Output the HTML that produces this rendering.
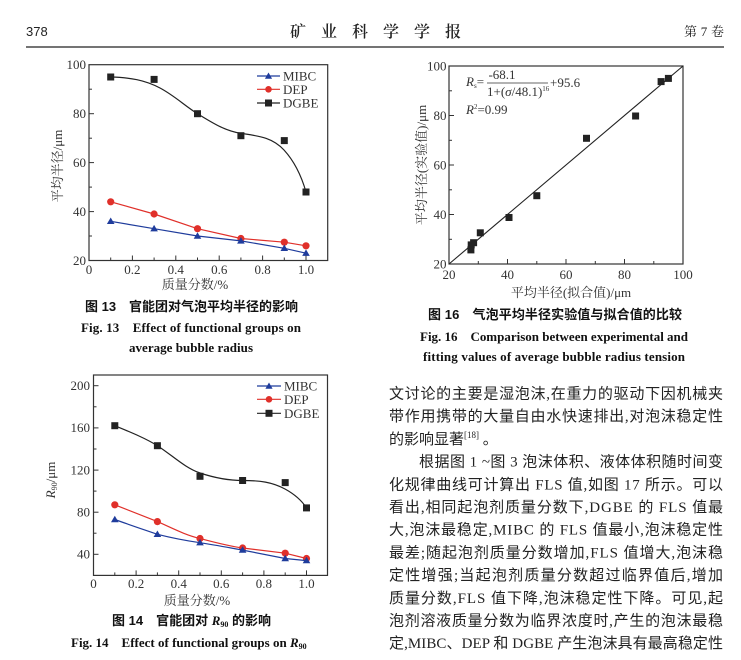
<!DOCTYPE html>
<html><head><meta charset="utf-8"><style>
html,body{margin:0;padding:0;background:#fff;}
svg{display:block;}
.tk{font-family:"Liberation Serif",serif;font-size:13px;fill:#333;}
.cj{font-family:"Liberation Serif","Noto Serif CJK SC",serif;font-size:13px;fill:#333;}
.cap{font-family:"Liberation Sans","Noto Sans CJK SC",sans-serif;font-size:13px;font-weight:bold;fill:#111;}
.capE{font-family:"Liberation Serif",serif;font-size:13px;font-weight:bold;fill:#111;}
.bd{font-family:"Liberation Serif","Noto Sans CJK SC",sans-serif;font-size:15px;fill:#222;}
.ax{fill:none;stroke:#333;stroke-width:1.2;}
.t{stroke:#333;stroke-width:1;}
</style></head><body>
<svg width="741" height="660" viewBox="0 0 741 660" xmlns="http://www.w3.org/2000/svg">
<rect width="741" height="660" fill="#fff"/>
<!-- header -->
<text x="26" y="36" style="font-family:'Liberation Sans Narrow','Liberation Sans',sans-serif;font-size:13px;fill:#222">378</text>
<text x="290" y="37" textLength="171" lengthAdjust="spacing" style="font-family:'Liberation Serif','Noto Serif CJK SC',serif;font-size:16px;font-weight:600;fill:#222">矿业科学学报</text>
<text x="684" y="36" textLength="40" lengthAdjust="spacing" style="font-family:'Liberation Serif','Noto Serif CJK SC',serif;font-size:13px;fill:#222">第7卷</text>
<line x1="26" y1="47" x2="724" y2="47" stroke="#222" stroke-width="1.2"/>

<!-- ===== Chart 13 ===== -->
<rect x="89" y="64.7" width="238.7" height="195.8" class="ax"/>
<g class="t">
<line x1="132.4" y1="260.5" x2="132.4" y2="255.5"/><line x1="175.8" y1="260.5" x2="175.8" y2="255.5"/><line x1="219.2" y1="260.5" x2="219.2" y2="255.5"/><line x1="262.6" y1="260.5" x2="262.6" y2="255.5"/><line x1="306" y1="260.5" x2="306" y2="255.5"/>
<line x1="110.7" y1="260.5" x2="110.7" y2="257.5"/><line x1="154.1" y1="260.5" x2="154.1" y2="257.5"/><line x1="197.5" y1="260.5" x2="197.5" y2="257.5"/><line x1="240.9" y1="260.5" x2="240.9" y2="257.5"/><line x1="284.3" y1="260.5" x2="284.3" y2="257.5"/>
<line x1="89" y1="113.7" x2="94" y2="113.7"/><line x1="89" y1="162.6" x2="94" y2="162.6"/><line x1="89" y1="211.6" x2="94" y2="211.6"/>
<line x1="89" y1="89.2" x2="92" y2="89.2"/><line x1="89" y1="138.2" x2="92" y2="138.2"/><line x1="89" y1="187.1" x2="92" y2="187.1"/><line x1="89" y1="236" x2="92" y2="236"/>
</g>
<g class="tk" text-anchor="end">
<text x="86" y="69">100</text><text x="86" y="118">80</text><text x="86" y="167">60</text><text x="86" y="216">40</text><text x="86" y="265">20</text>
</g>
<g class="tk" text-anchor="middle">
<text x="89" y="274">0</text><text x="132.4" y="274">0.2</text><text x="175.8" y="274">0.4</text><text x="219.2" y="274">0.6</text><text x="262.6" y="274">0.8</text><text x="306" y="274">1.0</text>
</g>
<text class="cj" x="195" y="289" text-anchor="middle">质量分数/%</text>
<text class="cj" x="0" y="0" text-anchor="middle" transform="translate(62,166) rotate(-90)">平均半径/μm</text>
<!-- series -->
<path d="M110.7,77 C130,77.5 145,80 160,88 C175,96 185,106 197.5,113.7 C212,122.5 225,131 240.9,133.3 C258,136 272,137 284,150 C295,162 302,178 306,192" fill="none" stroke="#222" stroke-width="1.2"/>
<g fill="#222">
<rect x="107.2" y="73.5" width="7" height="7"/><rect x="150.6" y="75.9" width="7" height="7"/><rect x="194" y="110.2" width="7" height="7"/><rect x="237.4" y="132.2" width="7" height="7"/><rect x="280.8" y="137.1" width="7" height="7"/><rect x="302.5" y="188.5" width="7" height="7"/>
</g>
<polyline points="110.7,201.8 154.1,214 197.5,228.7 240.9,238.5 284.3,242.2 306,245.8" fill="none" stroke="#e0302a" stroke-width="1.2"/>
<g fill="#e0302a">
<circle cx="110.7" cy="201.8" r="3.6"/><circle cx="154.1" cy="214" r="3.6"/><circle cx="197.5" cy="228.7" r="3.6"/><circle cx="240.9" cy="238.5" r="3.6"/><circle cx="284.3" cy="242.2" r="3.6"/><circle cx="306" cy="245.8" r="3.6"/>
</g>
<polyline points="110.7,221.3 154.1,228.7 197.5,236 240.9,240.9 284.3,248.3 306,253.2" fill="none" stroke="#1f3c9c" stroke-width="1.2"/>
<g fill="#1f3c9c">
<path d="M110.7,217.5 l3.8,6.5 h-7.6z"/><path d="M154.1,224.9 l3.8,6.5 h-7.6z"/><path d="M197.5,232.2 l3.8,6.5 h-7.6z"/><path d="M240.9,237.1 l3.8,6.5 h-7.6z"/><path d="M284.3,244.5 l3.8,6.5 h-7.6z"/><path d="M306,249.4 l3.8,6.5 h-7.6z"/>
</g>
<!-- legend 13 -->
<line x1="257" y1="76" x2="280" y2="76" stroke="#1f3c9c" stroke-width="1.2"/><path d="M268.5,72.5 l3.6,6.2 h-7.2z" fill="#1f3c9c"/>
<line x1="257" y1="89.3" x2="280" y2="89.3" stroke="#e0302a" stroke-width="1.2"/><circle cx="268.5" cy="89.3" r="3.3" fill="#e0302a"/>
<line x1="257" y1="103" x2="280" y2="103" stroke="#222" stroke-width="1.2"/><rect x="265" y="99.5" width="7" height="7" fill="#222"/>
<g class="tk"><text x="283" y="80.5">MIBC</text><text x="283" y="93.8">DEP</text><text x="283" y="107.5">DGBE</text></g>

<!-- captions 13 -->
<text class="cap" x="85" y="311" textLength="213" lengthAdjust="spacing">图 13　官能团对气泡平均半径的影响</text>
<text class="capE" x="81" y="332" textLength="220" lengthAdjust="spacing">Fig. 13&#160;&#160;&#160;&#160;Effect of functional groups on</text>
<text class="capE" x="129" y="352" textLength="124" lengthAdjust="spacing">average bubble radius</text>

<!-- ===== Chart 16 ===== -->
<rect x="449" y="66" width="234" height="198" class="ax"/>
<g class="t">
<line x1="507.5" y1="264" x2="507.5" y2="259"/><line x1="566" y1="264" x2="566" y2="259"/><line x1="624.5" y1="264" x2="624.5" y2="259"/>
<line x1="478.3" y1="264" x2="478.3" y2="261"/><line x1="536.8" y1="264" x2="536.8" y2="261"/><line x1="595.3" y1="264" x2="595.3" y2="261"/><line x1="653.8" y1="264" x2="653.8" y2="261"/>
<line x1="449" y1="115.5" x2="454" y2="115.5"/><line x1="449" y1="165" x2="454" y2="165"/><line x1="449" y1="214.5" x2="454" y2="214.5"/>
<line x1="449" y1="90.8" x2="452" y2="90.8"/><line x1="449" y1="140.3" x2="452" y2="140.3"/><line x1="449" y1="189.8" x2="452" y2="189.8"/><line x1="449" y1="239.3" x2="452" y2="239.3"/>
</g>
<g class="tk" text-anchor="end">
<text x="446.5" y="70.5">100</text><text x="446.5" y="120">80</text><text x="446.5" y="169.5">60</text><text x="446.5" y="219">40</text><text x="446.5" y="268.5">20</text>
</g>
<g class="tk" text-anchor="middle">
<text x="449" y="279">20</text><text x="507.5" y="279">40</text><text x="566" y="279">60</text><text x="624.5" y="279">80</text><text x="683" y="279">100</text>
</g>
<text class="cj" x="571" y="297" text-anchor="middle">平均半径(拟合值)/μm</text>
<text class="cj" x="0" y="0" text-anchor="middle" transform="translate(426,165) rotate(-90)">平均半径(实验值)/μm</text>
<line x1="449" y1="264" x2="683" y2="66" stroke="#222" stroke-width="1.1"/>
<g fill="#222">
<rect x="664.9" y="74.9" width="7" height="7"/><rect x="657.6" y="78.1" width="7" height="7"/><rect x="632.1" y="112.5" width="7" height="7"/><rect x="583" y="134.8" width="7" height="7"/><rect x="533.3" y="192.2" width="7" height="7"/><rect x="505.5" y="214" width="7" height="7"/><rect x="476.8" y="229.3" width="7" height="7"/><rect x="470.1" y="239.2" width="7" height="7"/><rect x="467.7" y="241.4" width="7" height="7"/><rect x="467.4" y="246.4" width="7" height="7"/>
</g>
<!-- formula -->
<g style="font-family:'Liberation Serif',serif;fill:#333">
<text x="466" y="86" font-size="13"><tspan font-style="italic">R</tspan><tspan font-size="7" dy="2">s</tspan><tspan dy="-2">=</tspan></text>
<text x="502" y="79" font-size="13" text-anchor="middle">-68.1</text>
<line x1="487" y1="83" x2="548" y2="83" stroke="#333" stroke-width="0.8"/>
<text x="487" y="96" font-size="13">1+(<tspan font-style="italic">σ</tspan>/48.1)<tspan font-size="7" dy="-5">16</tspan></text>
<text x="550" y="87" font-size="13">+95.6</text>
<text x="466" y="114" font-size="13"><tspan font-style="italic">R</tspan><tspan font-size="7" dy="-5">2</tspan><tspan dy="5">=0.99</tspan></text>
</g>
<!-- captions 16 -->
<text class="cap" x="428" y="319" textLength="254" lengthAdjust="spacing">图 16　气泡平均半径实验值与拟合值的比较</text>
<text class="capE" x="420" y="341" textLength="268" lengthAdjust="spacing">Fig. 16&#160;&#160;&#160;&#160;Comparison between experimental and</text>
<text class="capE" x="423" y="361" textLength="262" lengthAdjust="spacing">fitting values of average bubble radius tension</text>

<!-- ===== Chart 14 ===== -->
<rect x="93.5" y="375" width="234" height="200.4" class="ax"/>
<g class="t">
<line x1="136.1" y1="575.4" x2="136.1" y2="570.4"/><line x1="178.7" y1="575.4" x2="178.7" y2="570.4"/><line x1="221.3" y1="575.4" x2="221.3" y2="570.4"/><line x1="263.9" y1="575.4" x2="263.9" y2="570.4"/><line x1="306.5" y1="575.4" x2="306.5" y2="570.4"/>
<line x1="114.8" y1="575.4" x2="114.8" y2="572.4"/><line x1="157.4" y1="575.4" x2="157.4" y2="572.4"/><line x1="200" y1="575.4" x2="200" y2="572.4"/><line x1="242.6" y1="575.4" x2="242.6" y2="572.4"/><line x1="285.2" y1="575.4" x2="285.2" y2="572.4"/>
<line x1="93.5" y1="385.7" x2="98.5" y2="385.7"/><line x1="93.5" y1="427.9" x2="98.5" y2="427.9"/><line x1="93.5" y1="470.1" x2="98.5" y2="470.1"/><line x1="93.5" y1="512.2" x2="98.5" y2="512.2"/><line x1="93.5" y1="554.3" x2="98.5" y2="554.3"/>
<line x1="93.5" y1="406.8" x2="96.5" y2="406.8"/><line x1="93.5" y1="449" x2="96.5" y2="449"/><line x1="93.5" y1="491.1" x2="96.5" y2="491.1"/><line x1="93.5" y1="533.2" x2="96.5" y2="533.2"/>
</g>
<g class="tk" text-anchor="end">
<text x="90" y="390">200</text><text x="90" y="432">160</text><text x="90" y="474.5">120</text><text x="90" y="516.5">80</text><text x="90" y="558.5">40</text>
</g>
<g class="tk" text-anchor="middle">
<text x="93.5" y="588">0</text><text x="136.1" y="588">0.2</text><text x="178.7" y="588">0.4</text><text x="221.3" y="588">0.6</text><text x="263.9" y="588">0.8</text><text x="306.5" y="588">1.0</text>
</g>
<text class="cj" x="197" y="605" text-anchor="middle">质量分数/%</text>
<text class="tk" x="0" y="0" text-anchor="middle" transform="translate(55,480) rotate(-90)"><tspan font-style="italic">R</tspan><tspan font-size="8" dy="2">90</tspan><tspan dy="-2">/μm</tspan></text>
<path d="M114.8,425.7 C130,432 145,438 157.4,445.7 C172,455 185,468 200,473 C215,478 228,480.5 242.6,480.5 C260,480.5 272,482 285,489 C296,495 302,501 306.5,507.9" fill="none" stroke="#222" stroke-width="1.2"/>
<g fill="#222">
<rect x="111.3" y="422.2" width="7" height="7"/><rect x="153.9" y="442.2" width="7" height="7"/><rect x="196.5" y="472.8" width="7" height="7"/><rect x="239.1" y="477" width="7" height="7"/><rect x="281.7" y="479.1" width="7" height="7"/><rect x="303" y="504.4" width="7" height="7"/>
</g>
<path d="M114.8,504.8 L157.4,521.6 C172,528 185,535 200,538.5 C215,542.5 228,546 242.6,548 C258,550 272,551.5 285.2,553.2 L306.5,558.5" fill="none" stroke="#e0302a" stroke-width="1.2"/>
<g fill="#e0302a">
<circle cx="114.8" cy="504.8" r="3.6"/><circle cx="157.4" cy="521.6" r="3.6"/><circle cx="200" cy="538.5" r="3.6"/><circle cx="242.6" cy="548" r="3.6"/><circle cx="285.2" cy="553.2" r="3.6"/><circle cx="306.5" cy="558.5" r="3.6"/>
</g>
<path d="M114.8,519.5 C130,525 145,530 157.4,534.3 C172,538 185,540.5 200,542.7 C215,545 228,547.5 242.6,550.1 C258,553 272,556 285.2,558.5 L306.5,560.6" fill="none" stroke="#1f3c9c" stroke-width="1.2"/>
<g fill="#1f3c9c">
<path d="M114.8,515.7 l3.8,6.5 h-7.6z"/><path d="M157.4,530.5 l3.8,6.5 h-7.6z"/><path d="M200,538.9 l3.8,6.5 h-7.6z"/><path d="M242.6,546.3 l3.8,6.5 h-7.6z"/><path d="M285.2,554.7 l3.8,6.5 h-7.6z"/><path d="M306.5,556.8 l3.8,6.5 h-7.6z"/>
</g>
<!-- legend 14 -->
<line x1="257" y1="386" x2="281" y2="386" stroke="#1f3c9c" stroke-width="1.2"/><path d="M269,382.5 l3.6,6.2 h-7.2z" fill="#1f3c9c"/>
<line x1="257" y1="399.3" x2="281" y2="399.3" stroke="#e0302a" stroke-width="1.2"/><circle cx="269" cy="399.3" r="3.3" fill="#e0302a"/>
<line x1="257" y1="413.3" x2="281" y2="413.3" stroke="#222" stroke-width="1.2"/><rect x="265.5" y="409.8" width="7" height="7" fill="#222"/>
<g class="tk"><text x="284" y="390.5">MIBC</text><text x="284" y="403.8">DEP</text><text x="284" y="417.8">DGBE</text></g>
<!-- captions 14 -->
<text class="cap" x="112" y="625">图 14　官能团对 <tspan font-family="Liberation Serif" font-style="italic">R</tspan><tspan font-family="Liberation Serif" font-size="8" dy="2">90</tspan><tspan dy="-2"> 的影响</tspan></text>
<text class="capE" x="71" y="647">Fig. 14&#160;&#160;&#160;&#160;Effect of functional groups on&#160;<tspan font-style="italic">R</tspan><tspan font-size="8" dy="2">90</tspan></text>

<!-- ===== body text ===== -->
<text class="bd" x="389" y="398.5" textLength="334" lengthAdjust="spacing">文讨论的主要是湿泡沫,在重力的驱动下因机械夹</text>
<text class="bd" x="389" y="421.2" textLength="334" lengthAdjust="spacing">带作用携带的大量自由水快速排出,对泡沫稳定性</text>
<text class="bd" x="389" y="443.9">的影响显著<tspan font-size="9" dy="-6">[18]</tspan><tspan dy="6"> 。</tspan></text>
<text class="bd" x="419" y="466.6" textLength="304" lengthAdjust="spacing">根据图 1 ~图 3 泡沫体积、液体体积随时间变</text>
<text class="bd" x="389" y="489.3" textLength="334" lengthAdjust="spacing">化规律曲线可计算出 FLS 值,如图 17 所示。可以</text>
<text class="bd" x="389" y="512" textLength="334" lengthAdjust="spacing">看出,相同起泡剂质量分数下,DGBE 的 FLS 值最</text>
<text class="bd" x="389" y="534.7" textLength="334" lengthAdjust="spacing">大,泡沫最稳定,MIBC 的 FLS 值最小,泡沫稳定性</text>
<text class="bd" x="389" y="557.4" textLength="334" lengthAdjust="spacing">最差;随起泡剂质量分数增加,FLS 值增大,泡沫稳</text>
<text class="bd" x="389" y="580.1" textLength="334" lengthAdjust="spacing">定性增强;当起泡剂质量分数超过临界值后,增加</text>
<text class="bd" x="389" y="602.8" textLength="334" lengthAdjust="spacing">质量分数,FLS 值下降,泡沫稳定性下降。可见,起</text>
<text class="bd" x="389" y="625.5" textLength="334" lengthAdjust="spacing">泡剂溶液质量分数为临界浓度时,产生的泡沫最稳</text>
<text class="bd" x="389" y="648.2" textLength="334" lengthAdjust="spacing">定,MIBC、DEP 和 DGBE 产生泡沫具有最高稳定性</text>
</svg>
</body></html>
